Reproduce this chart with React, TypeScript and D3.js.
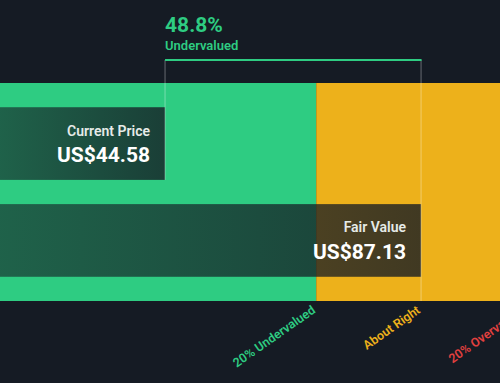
import React from "react";
import * as d3 from "d3";

const currentPrice = 44.58;
const fairValue = 87.13;
const discountPct = 48.8;
const zoneNames = ["20% Undervalued", "About Right", "20% Overvalued"];
const zoneBreaks = [0, 0.8, 1.2, 2.0]; // multiples of fair value
const zoneLabelAt = [0.8, 1.0, 1.2]; // multiples of fair value
const zoneColors = ["#2ecc82", "#edb11b", "#e2403f"];
const zoneTextColors = ["#2ecc82", "#edb11b", "#e2403f"];
const barRows = ["Current Price", "Fair Value"];
const barValues = [currentPrice, fairValue];
const domainMin = 17.15;
const domainMax = 100.25;

const W = 500;
const H = 383;

export default function App() {
  const x = d3.scaleLinear().domain([domainMin, domainMax]).range([0, W]);
  const bandTop = 83;
  const bandBottom = 301;
  const y = d3
    .scaleBand<string>()
    .domain(barRows)
    .range([bandTop, bandBottom])
    .paddingInner(0.25)
    .paddingOuter(0.25);
  const bg = "#151b24";
  const xc = x(currentPrice);
  const xf = x(fairValue);
  const lineTop = 60;
  const font = "Roboto, 'Open Sans', sans-serif";

  return (
    <svg
      width={W}
      height={H}
      style={{ position: "absolute", left: 0, top: 0, display: "block" }}
      fontFamily={font}
    >
      <defs>
        <linearGradient id="boxGrad" x1="0" x2="1" y1="0" y2="0">
          <stop offset="0%" stopColor={bg} stopOpacity={0.6} />
          <stop offset="100%" stopColor={bg} stopOpacity={0.8} />
        </linearGradient>
      </defs>
      <rect x={0} y={0} width={W} height={H} fill={bg} />
      {zoneNames.map((n, i) => {
        const x0 = Math.max(0, x(zoneBreaks[i] * fairValue));
        const x1 = x(zoneBreaks[i + 1] * fairValue);
        return (
          <rect
            key={n}
            x={x0}
            y={bandTop}
            width={Math.max(0, x1 - x0)}
            height={bandBottom - bandTop}
            fill={zoneColors[i]}
          />
        );
      })}
      {barRows.map((r, i) => {
        const by = y(r)!;
        const bh = y.bandwidth();
        const bx = x(barValues[i]);
        const cy = by + bh / 2;
        const label = r;
        const val = "US$" + barValues[i].toFixed(2);
        return (
          <g key={r}>
            <rect x={0} y={by} width={bx} height={bh} fill="url(#boxGrad)" />
            <text
              x={bx - 15}
              y={cy - 8}
              textAnchor="end"
              fill="#e6ebe8"
              fontSize={14}
              fontWeight={600}
            >
              {label}
            </text>
            <text
              x={bx - 15}
              y={cy + 18.5}
              textAnchor="end"
              fill="#ffffff"
              fontSize={21}
              fontWeight={700}
            >
              {val}
            </text>
          </g>
        );
      })}
      {/* bracket */}
      <line x1={xc} x2={xc} y1={lineTop} y2={y(barRows[0])! + y.bandwidth()} stroke="#ffffff" strokeOpacity={0.35} strokeWidth={1} />
      <line x1={xf} x2={xf} y1={lineTop} y2={bandBottom} stroke="#ffffff" strokeOpacity={0.35} strokeWidth={1} />
      <line x1={xc} x2={xf + 0.5} y1={lineTop} y2={lineTop} stroke="#2ecc82" strokeWidth={2} />
      <text x={xc} y={31.5} fill="#2ecc82" fontSize={21} fontWeight={700}>
        {discountPct.toFixed(1)}%
      </text>
      <text x={xc} y={49.5} fill="#2ecc82" fontSize={13} fontWeight={600}>
        Undervalued
      </text>
      {zoneNames.map((n, i) => {
        const lx = x(zoneLabelAt[i] * fairValue);
        const ly = 312;
        return (
          <text
            key={n}
            transform={`translate(${lx},${ly}) rotate(-35)`}
            textAnchor="end"
            fill={zoneTextColors[i]}
            fontSize={12.5}
            fontWeight={600}
          >
            {n}
          </text>
        );
      })}
    </svg>
  );
}
